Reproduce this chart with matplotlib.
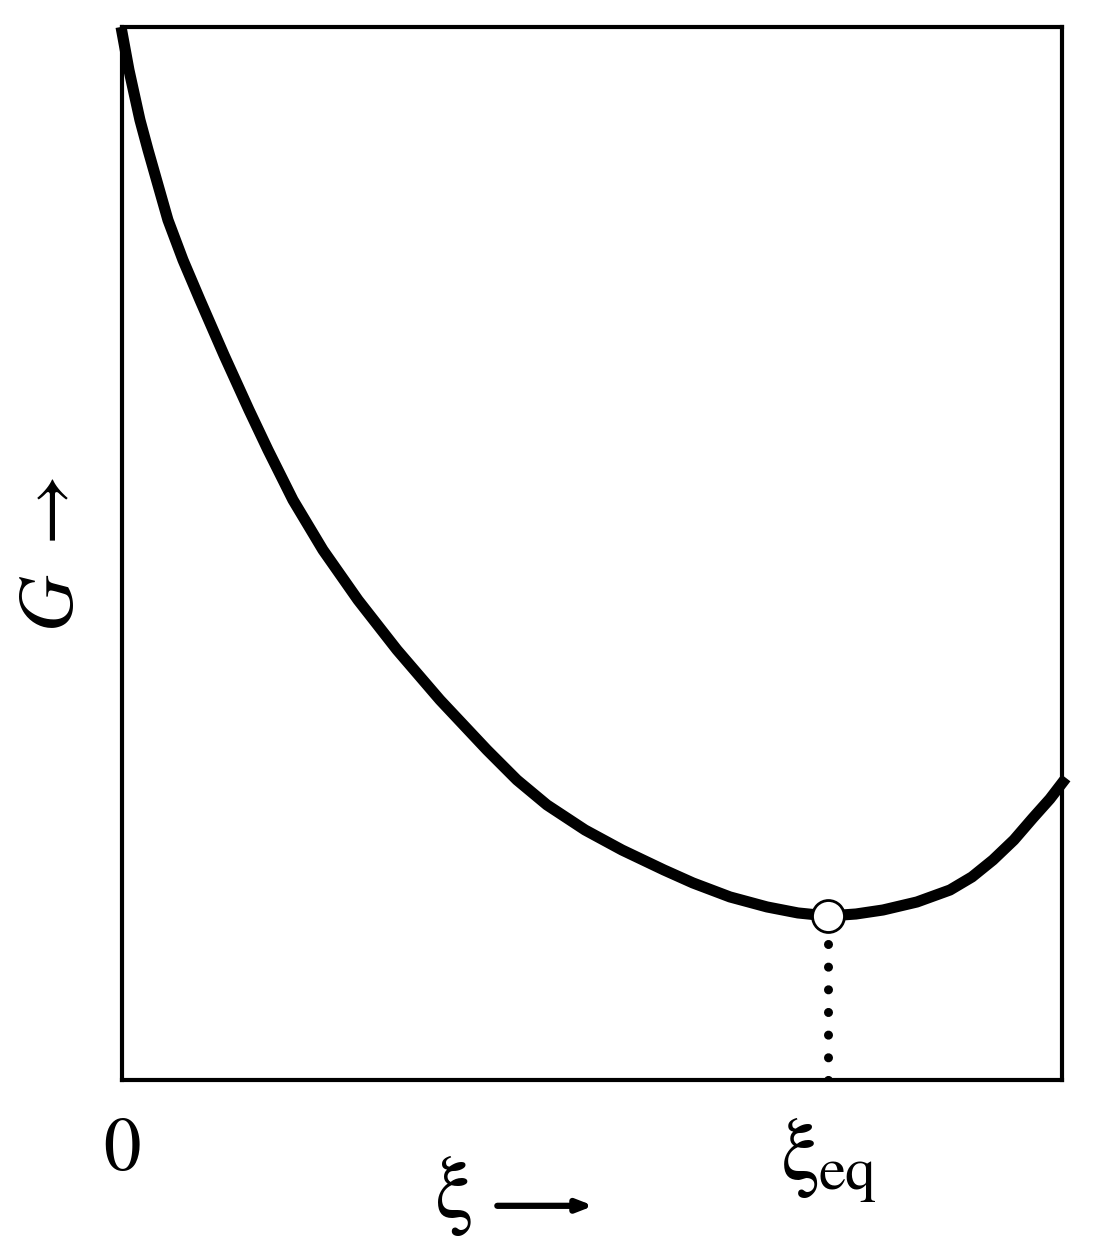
import matplotlib
matplotlib.use("Agg")
import matplotlib.pyplot as plt
from matplotlib import transforms

plt.rcParams["mathtext.fontset"] = "stix"
plt.rcParams["font.family"] = ["STIXGeneral", "Liberation Serif", "DejaVu Serif"]

# ---- Gibbs energy vs extent of reaction (axes units 0..1)
xi = [-0.001, 0.0074, 0.0191, 0.0277, 0.0489, 0.0649, 0.0830, 0.1085, 0.1351,
      0.1553, 0.1819, 0.2138, 0.2511, 0.2926, 0.3383, 0.3883, 0.4202, 0.4521,
      0.4926, 0.5319, 0.5766, 0.6074, 0.6468, 0.6862, 0.7191, 0.7511, 0.7809,
      0.8096, 0.8457, 0.8809, 0.9043, 0.9266, 0.9489, 0.9691, 0.9872, 1.0043]
G = [1.0000, 0.9592, 0.9117, 0.8832, 0.8167, 0.7787, 0.7407, 0.6885, 0.6363,
     0.5983, 0.5508, 0.5033, 0.4558, 0.4084, 0.3609, 0.3134, 0.2849, 0.2612,
     0.2374, 0.2184, 0.1994, 0.1871, 0.1738, 0.1643, 0.1586, 0.1557, 0.1576,
     0.1614, 0.1690, 0.1804, 0.1928, 0.2089, 0.2279, 0.2488, 0.2669, 0.2868]
xi_eq = 0.7511
G_eq = 0.1557

fig = plt.figure(figsize=(10.93, 12.6), dpi=100, facecolor="white")
ax = fig.add_axes([0.1116, 0.1429, 0.8600, 0.8357])
ax.set_xlim(0, 1)
ax.set_ylim(0, 1)
ax.set_xticks([])
ax.set_yticks([])
for sp in ax.spines.values():
    sp.set_linewidth(3.0)
    sp.set_color("black")

ax.plot(xi, G, color="black", lw=8.0, solid_capstyle="butt", solid_joinstyle="round",
        clip_on=False, zorder=3)

# dotted drop line from the minimum
ax.plot([xi_eq, xi_eq], [0.0, G_eq - 0.022], color="black", lw=6.5,
        linestyle=(0, (0.01, 2.5)), dash_capstyle="round", zorder=2)
ax.plot([xi_eq], [G_eq], marker="o", ms=23, mfc="white", mec="black", mew=2.0, zorder=5)

# labels under the axis
trans = transforms.blended_transform_factory(ax.transData, ax.transAxes)
ax.text(0.0, -0.069, "0", transform=trans, ha="center", va="center", fontsize=54)
ax.text(xi_eq - 0.008, -0.094, "ξ", transform=trans, ha="right", va="baseline", fontsize=64)
ax.text(xi_eq - 0.010, -0.104, "eq", transform=trans, ha="left", va="baseline", fontsize=44)

# axis names
fig.text(0.416, 0.034, "ξ", ha="center", va="baseline", fontsize=63)
ax.annotate("", xy=(0.543, 0.043), xytext=(0.455, 0.043), xycoords="figure fraction",
            arrowprops=dict(arrowstyle="-|>,head_length=0.9,head_width=0.35", color="black",
                            lw=4.5, shrinkA=0, shrinkB=0))
fig.text(0.050, 0.56, r"$G\ \rightarrow$", ha="center", va="center", rotation=90, fontsize=56)

fig.savefig("out.png", dpi=100, facecolor="white")
